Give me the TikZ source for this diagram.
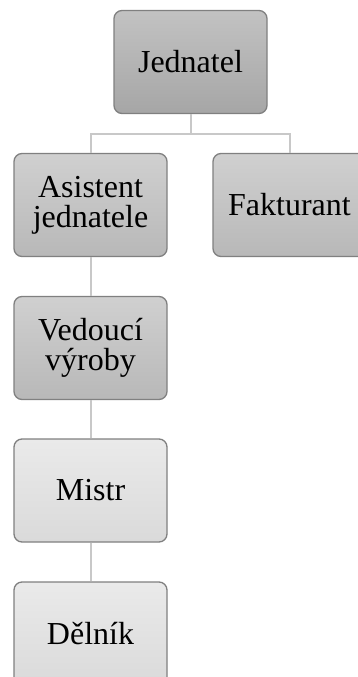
\documentclass[tikz,border=0pt]{standalone}
\usepackage{fontspec}
\setmainfont{Liberation Serif}
\usetikzlibrary{positioning}
\definecolor{boxline}{RGB}{128,128,128}
\definecolor{linkgray}{RGB}{200,200,200}
\tikzset{
  post/.style={draw=boxline, line width=1.3pt, rounded corners=8pt,
    minimum width=153pt, minimum height=103pt, inner sep=2pt,
    align=center, font=\fontsize{32}{30}\selectfont},
  topbox/.style={post, top color={rgb,255:red,194;green,194;blue,194},
    bottom color={rgb,255:red,166;green,166;blue,166}},
  midbox/.style={post, top color={rgb,255:red,208;green,208;blue,208},
    bottom color={rgb,255:red,184;green,184;blue,184}},
  lowbox/.style={post, top color={rgb,255:red,234;green,234;blue,234},
    bottom color={rgb,255:red,218;green,218;blue,218}},
  link/.style={draw=linkgray, line width=2pt}
}
\begin{document}
\begin{tikzpicture}[x=1pt,y=-1pt]
  \useasboundingbox (0,0) rectangle (358,677);
  \clip (0,0) rectangle (358,677);
  % boxes
  \node[topbox] (jednatel) at (190.5,62) {Jednatel};
  \node[midbox] (asistent) at (90.5,205) {Asistent\\jednatele};
  \node[midbox] (fakturant) at (289.5,205) {Fakturant};
  \node[midbox] (vedouci) at (90.5,348) {Vedoucí\\výroby};
  \node[lowbox] (mistr) at (90.5,490.5) {Mistr};
  \node[lowbox] (delnik) at (90.5,633.5) {Dělník};
  % connectors
  \draw[link] (jednatel.south) -- ++(0,20) -| (asistent.north);
  \draw[link] (jednatel.south) -- ++(0,20) -| (fakturant.north);
  \draw[link] (asistent.south) -- (vedouci.north);
  \draw[link] (vedouci.south) -- (mistr.north);
  \draw[link] (mistr.south) -- (delnik.north);
\end{tikzpicture}
\end{document}
